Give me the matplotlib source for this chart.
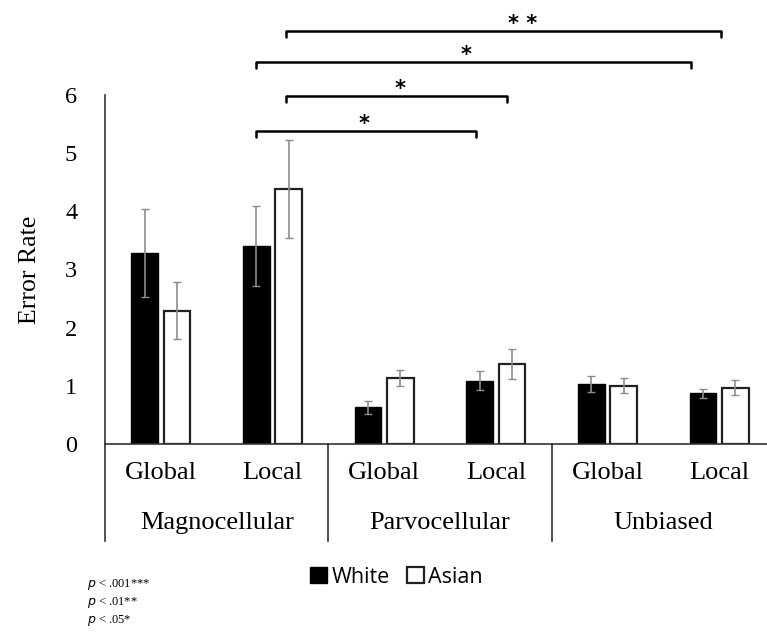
import numpy as np
import matplotlib
matplotlib.use("Agg")
import matplotlib.pyplot as plt

groups = ["Magnocellular", "Parvocellular", "Unbiased"]
conditions = ["Global", "Local", "Global", "Local", "Global", "Local"]
white = [3.28, 3.40, 0.63, 1.09, 1.03, 0.87]
white_err = [0.76, 0.69, 0.11, 0.17, 0.14, 0.08]
asian = [2.29, 4.38, 1.13, 1.38, 1.00, 0.97]
asian_err = [0.49, 0.84, 0.14, 0.26, 0.13, 0.13]

# significance brackets: start, end, height, label, label x
brackets = [
    (0.855, 2.82, 5.38, "*", 1.82),
    (1.12, 3.10, 5.98, "*", 2.14),
    (0.855, 4.75, 6.57, "*", 2.73),
    (1.12, 5.02, 7.10, "* *", 3.24),
]

serif = "Liberation Serif"

fig = plt.figure(figsize=(7.67, 6.35), dpi=100)
ax = fig.add_axes([0.1369, 0.3008, 0.8735, 0.5496])

x = np.arange(len(conditions))
w = 0.237
off = 0.145
ax.bar(x - off, white, w, color="black", edgecolor="black", label="White", zorder=2)
ax.bar(x + off, asian, w, color="white", edgecolor="#222222", linewidth=1.6,
       label="Asian", zorder=2)
ax.errorbar(x - off, white, yerr=white_err, fmt="none", ecolor="#8c8c8c",
            elinewidth=1.2, capsize=3, zorder=3)
ax.errorbar(x + off, asian, yerr=asian_err, fmt="none", ecolor="#8c8c8c",
            elinewidth=1.2, capsize=3, zorder=3)

ax.set_xlim(-0.5, 5.5)
ax.set_ylim(0, 6)
ax.set_yticks(range(7))
ax.set_yticklabels([str(i) for i in range(7)], family=serif, fontsize=17.5)
ax.tick_params(axis="y", length=0, pad=20)
ax.set_xticks([])
for s in ["top", "right"]:
    ax.spines[s].set_visible(False)
ax.spines["left"].set_color("#333333")
ax.spines["bottom"].set_color("#333333")
ax.spines["left"].set_linewidth(1.2)
ax.spines["bottom"].set_linewidth(1.2)
ax.set_ylabel("Error Rate", family=serif, fontsize=18.5, labelpad=17)

# category and group labels below the axis
for i, c in enumerate(conditions):
    ax.text(i, -0.5, c, ha="center", va="center", family=serif, fontsize=19,
            clip_on=False)
for g, name in enumerate(groups):
    ax.text(2 * g + 0.5, -1.36, name, ha="center", va="center", family=serif,
            fontsize=19, clip_on=False)
for sep in [-0.5, 1.5, 3.5, 5.5]:
    ax.plot([sep, sep], [0, -1.66], color="#333333", lw=1.2, clip_on=False)

# brackets
for x0, x1, y, lab, sx in brackets:
    ax.plot([x0, x0, x1, x1], [y - 0.1, y, y, y - 0.1], color="black", lw=1.8,
            clip_on=False, solid_capstyle="round", solid_joinstyle="round")
    ax.text(sx, y + 0.12, lab, ha="center", va="center", fontsize=15,
            fontweight="bold", family="DejaVu Sans", clip_on=False)

leg = fig.legend(loc="center", bbox_to_anchor=(0.517, 0.091), ncol=2, frameon=False,
                 prop={"family": "Open Sans", "size": 15.5}, handlelength=0.8,
                 handleheight=0.8, handletextpad=0.2, columnspacing=0.8)

notes = ["$p$ < .001***", "$p$ < .01**", "$p$ < .05*"]
for k, n in enumerate(notes):
    fig.text(0.113, 1 - (585 + 17.5 * k) / 635, n, family=serif, fontsize=9,
             va="center", ha="left")

fig.savefig("out.png", dpi=100)
